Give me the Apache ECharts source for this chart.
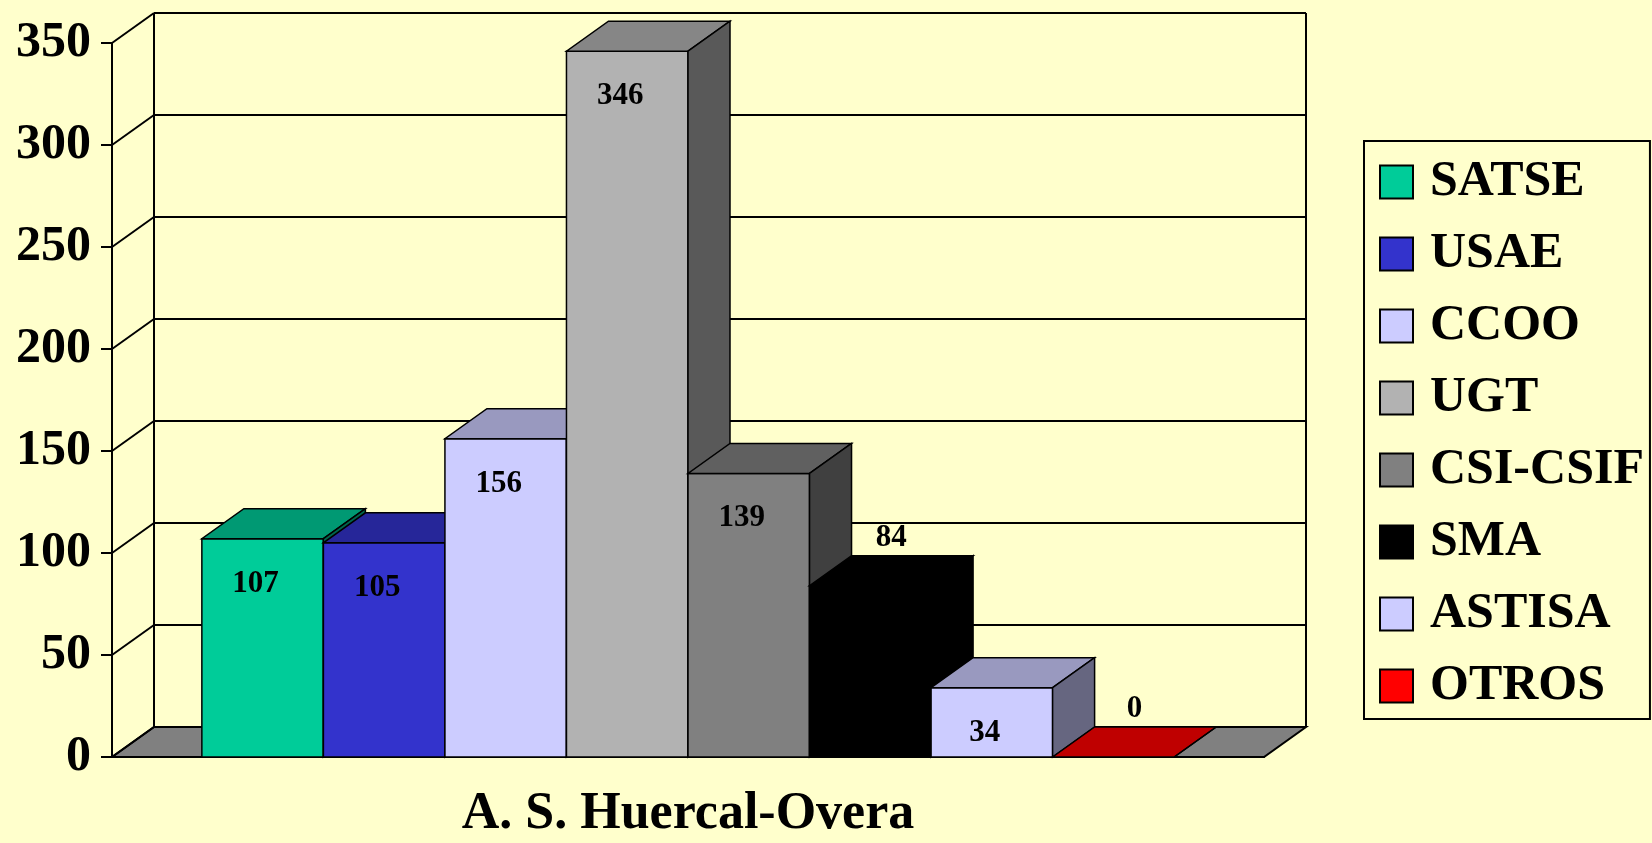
<html>
<head>
<meta charset="UTF-8">
<title>A. S. Huercal-Overa</title>
<script src="https://cdn.jsdelivr.net/npm/echarts@6/dist/echarts.min.js"></script>
<style>
  html, body { margin: 0; padding: 0; background: #FFFFCC; }
  #main { width: 1652px; height: 843px; }
</style>
</head>
<body>
<div id="main"></div>
<script>
// datos
var categories = ['A. S. Huercal-Overa'];
var unions = ['SATSE', 'USAE', 'CCOO', 'UGT', 'CSI-CSIF', 'SMA', 'ASTISA', 'OTROS'];
var votes = [107, 105, 156, 346, 139, 84, 34, 0];
var colors = ['#00CC99', '#3333CC', '#CCCCFF', '#B2B2B2', '#808080', '#000000', '#CCCCFF', '#FF0000'];
var yTicks = [0, 50, 100, 150, 200, 250, 300, 350];

var FONT = "'Liberation Serif', 'Times New Roman', serif";
var DX = 42, DY = -30;      // profundidad 3D
var BAR_GAP = 0.156;        // hueco de la categoria

function shade(hex, k) {
  var n = parseInt(hex.slice(1), 16);
  var r = Math.round(((n >> 16) & 255) * k);
  var g = Math.round(((n >> 8) & 255) * k);
  var b = Math.round((n & 255) * k);
  return 'rgb(' + r + ',' + g + ',' + b + ')';
}

// pared del fondo, suelo y lineas de division
function wallRender(params, api) {
  var cs = params.coordSys;
  var p = api.coord([0, api.value(1)]);
  var xl = cs.x, xr = cs.x + cs.width, y = p[1];
  var line = { stroke: '#000', lineWidth: 2 };
  var children = [
    { type: 'line', shape: { x1: xl, y1: y, x2: xl + DX, y2: y + DY }, style: line },
    { type: 'line', shape: { x1: xl + DX, y1: y + DY, x2: xr + DX, y2: y + DY }, style: line }
  ];
  if (params.dataIndex === 0) {
    children.unshift({
      type: 'polygon',
      shape: { points: [[xl, y], [xr, y], [xr + DX, y + DY], [xl + DX, y + DY]] },
      style: { fill: '#808080', stroke: '#000', lineWidth: 2 }
    });
    children.push({ type: 'line', shape: { x1: xl + DX, y1: y + DY, x2: xl + DX, y2: cs.y + DY }, style: line });
    children.push({ type: 'line', shape: { x1: xr + DX, y1: y + DY, x2: xr + DX, y2: cs.y + DY }, style: line });
  }
  return { type: 'group', children: children };
}

function barRender(idx) {
  return function (params, api) {
    var top = api.coord([api.value(0), api.value(1)]);
    var base = api.coord([api.value(0), 0]);
    var band = api.size([1, 0])[0];
    var span = band * (1 - BAR_GAP);
    var w = span / unions.length;
    var x0 = base[0] - span / 2 + idx * w, x1 = x0 + w;
    var yb = base[1], yt = top[1];
    var c = colors[idx];
    var edge = { stroke: '#000', lineWidth: 1.5 };
    var z = idx * 4;
    var v = api.value(1);
    var above = (v === 0 || c === '#000000');
    var label = {
      type: 'text', z2: z + 3,
      style: {
        text: String(v),
        x: above ? x0 + w / 2 + DX / 2 : x0 + w / 2 - 7,
        y: above ? yt + DY - 18 : yt + 45,
        align: 'center', verticalAlign: 'middle',
        font: 'bold 31px ' + FONT, fill: '#000'
      }
    };
    return {
      type: 'group',
      children: [
        { type: 'rect', z2: z, shape: { x: x0, y: yt, width: w, height: yb - yt },
          style: Object.assign({ fill: c }, edge) },
        { type: 'polygon', z2: z + 1,
          shape: { points: [[x0, yt], [x1, yt], [x1 + DX, yt + DY], [x0 + DX, yt + DY]] },
          style: Object.assign({ fill: shade(c, 0.75) }, edge) },
        { type: 'polygon', z2: z + 2,
          shape: { points: [[x1, yt], [x1, yb], [x1 + DX, yb + DY], [x1 + DX, yt + DY]] },
          style: Object.assign({ fill: shade(c, 0.5) }, edge) },
        label
      ]
    };
  };
}

var series = [{
  name: 'pared',
  type: 'custom',
  z: 1,
  clip: false,
  silent: true,
  renderItem: wallRender,
  data: yTicks.map(function (t) { return [0, t]; })
}];
for (var i = 0; i < unions.length; i++) {
  series.push({
    name: unions[i],
    type: 'custom',
    z: 2,
    clip: false,
    itemStyle: { color: colors[i] },
    renderItem: barRender(i),
    data: [[0, votes[i]]]
  });
}

var option = {
  backgroundColor: '#FFFFCC',
  animation: false,
  grid: { left: 112, right: 388, top: 43, bottom: 86 },
  legend: {
    orient: 'vertical',
    left: 1364, top: 141,
    data: unions,
    icon: 'rect',
    itemWidth: 33, itemHeight: 33,
    itemGap: 22,
    padding: [16, 6, 8, 15],
    borderColor: '#000', borderWidth: 2,
    itemStyle: { borderColor: '#000', borderWidth: 2 },
    selectedMode: false,
    textStyle: {
      fontFamily: FONT, fontWeight: 'bold', fontSize: 50, color: '#000',
      lineHeight: 50, padding: [0, 0, 0, 12]
    }
  },
  xAxis: {
    type: 'category',
    data: categories,
    axisLine: { lineStyle: { color: '#000', width: 2 } },
    axisTick: { length: 12, lineStyle: { color: '#000', width: 2 } },
    axisLabel: { margin: 32, fontFamily: FONT, fontWeight: 'bold', fontSize: 52, color: '#000' },
    splitLine: { show: false }
  },
  yAxis: {
    type: 'value',
    min: 0, max: 350, interval: 50,
    axisLine: { show: true, lineStyle: { color: '#000', width: 2 } },
    axisTick: { show: true, length: 11, lineStyle: { color: '#000', width: 2 } },
    axisLabel: { margin: 21, fontFamily: FONT, fontWeight: 'bold', fontSize: 50, color: '#000' },
    splitLine: { show: false }
  },
  series: series
};

var chart = echarts.init(document.getElementById('main'));
chart.setOption(option);
</script>
</body>
</html>
